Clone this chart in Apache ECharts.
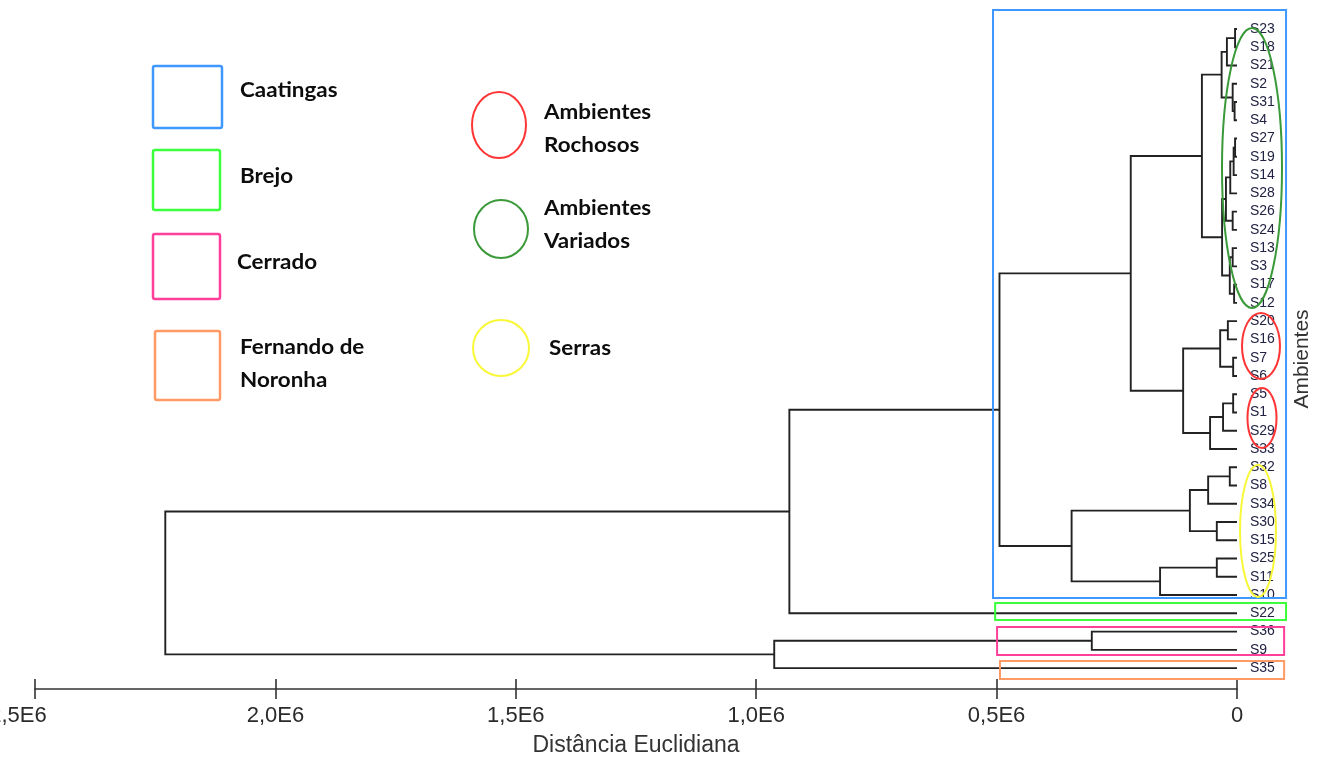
<!DOCTYPE html>
<html>
<head>
<meta charset="utf-8">
<title>Dendrograma - Distância Euclidiana</title>
<script src="https://cdn.jsdelivr.net/npm/echarts@6.0.0/dist/echarts.min.js"></script>
<style>
  html, body { margin: 0; padding: 0; background: #ffffff; }
  #chart { width: 1328px; height: 764px; }
</style>
</head>
<body>
<div id="chart"></div>
<script>
// Leaf order, top to bottom
const leaves = ['S23', 'S18', 'S21', 'S2', 'S31', 'S4', 'S27', 'S19', 'S14', 'S28',
  'S26', 'S24', 'S13', 'S3', 'S17', 'S12', 'S20', 'S16', 'S7', 'S6',
  'S5', 'S1', 'S29', 'S33', 'S32', 'S8', 'S34', 'S30', 'S15', 'S25',
  'S11', 'S10', 'S22', 'S36', 'S9', 'S35'];

// Merge steps: [child A, child B, distance]. Indices below 36 are leaves,
// index 36 + k refers to the cluster formed at step k.
const merges = [
  [0, 1, 0.004e6],     // 36  S23+S18
  [36, 2, 0.021e6],    // 37  +S21
  [4, 5, 0.005e6],     // 38  S31+S4
  [3, 38, 0.009e6],    // 39  S2+
  [37, 39, 0.032e6],   // 40
  [6, 7, 0.004e6],     // 41  S27+S19
  [41, 8, 0.007e6],    // 42  +S14
  [42, 9, 0.014e6],    // 43  +S28
  [10, 11, 0.009e6],   // 44  S26+S24
  [43, 44, 0.023e6],   // 45
  [12, 13, 0.009e6],   // 46  S13+S3
  [14, 15, 0.006e6],   // 47  S17+S12
  [46, 47, 0.015e6],   // 48
  [45, 48, 0.031e6],   // 49
  [40, 49, 0.073e6],   // 50
  [16, 17, 0.019e6],   // 51  S20+S16
  [18, 19, 0.008e6],   // 52  S7+S6
  [51, 52, 0.035e6],   // 53
  [20, 21, 0.008e6],   // 54  S5+S1
  [54, 22, 0.029e6],   // 55  +S29
  [55, 23, 0.056e6],   // 56  +S33
  [53, 56, 0.112e6],   // 57
  [50, 57, 0.221e6],   // 58
  [24, 25, 0.015e6],   // 59  S32+S8
  [59, 26, 0.060e6],   // 60  +S34
  [27, 28, 0.042e6],   // 61  S30+S15
  [60, 61, 0.098e6],   // 62
  [29, 30, 0.042e6],   // 63  S25+S11
  [63, 31, 0.160e6],   // 64  +S10
  [62, 64, 0.344e6],   // 65
  [58, 65, 0.494e6],   // 66  Caatingas
  [66, 32, 0.931e6],   // 67  +S22
  [33, 34, 0.302e6],   // 68  S36+S9
  [68, 35, 0.9625e6],  // 69  +S35
  [67, 69, 2.229e6]    // 70  root
];

const tickValues = [0, 0.5e6, 1.0e6, 1.5e6, 2.0e6, 2.5e6];
const tickLabels = ['0', '0,5E6', '1,0E6', '1,5E6', '2,0E6', '2,5E6'];

// Region frames around leaf groups: [distance left, distance right, leaf top, leaf bottom]
const regionNames = ['Caatingas', 'Brejo', 'Cerrado', 'Fernando de Noronha'];
const regionExtents = [
  [0.5075e6, -0.102e6, -1.04, 31.16],
  [0.503e6, -0.102e6, 31.43, 32.37],
  [0.499e6, -0.098e6, 32.75, 34.28],
  [0.493e6, -0.098e6, 34.61, 35.60]
];
const regionColors = ['#3f98ff', '#3cff3c', '#ff3f9a', '#ff9a66'];

// Environment ellipses: [centre distance, centre leaf, radius distance, radius leaves]
const envNames = ['Ambientes Variados', 'Ambientes Rochosos', 'Ambientes Rochosos', 'Serras'];
const envShapes = [
  [-0.0312e6, 7.61, 0.0624e6, 7.67],
  [-0.0499e6, 17.36, 0.0395e6, 1.81],
  [-0.0520e6, 21.30, 0.0302e6, 1.64],
  [-0.0437e6, 27.49, 0.0374e6, 3.61]
];
const envColors = ['#3a9a3a', '#ff3434', '#ff3434', '#f8f838'];

// Build link geometry from the merge table
const nodeY = leaves.map((_, i) => i);
const nodeH = leaves.map(() => 0);
const linkData = merges.map(([a, b, h]) => {
  const item = [nodeH[a], nodeY[a], h, nodeY[b], nodeH[b]];
  nodeY.push((nodeY[a] + nodeY[b]) / 2);
  nodeH.push(h);
  return item;
});

const STEP = 0.5e6;
const AXIS_FONT = 'Liberation Sans';

function renderLink(params, api) {
  const p1 = api.coord([api.value(0), api.value(1)]);
  const p2 = api.coord([api.value(2), api.value(1)]);
  const p3 = api.coord([api.value(2), api.value(3)]);
  const p4 = api.coord([api.value(4), api.value(3)]);
  return {
    type: 'polyline',
    shape: { points: [p1, p2, p3, p4] },
    style: { stroke: '#222222', lineWidth: 1.9, fill: null }
  };
}

function renderRegion(params, api) {
  const a = api.coord([api.value(0), api.value(2)]);
  const b = api.coord([api.value(1), api.value(3)]);
  return {
    type: 'rect',
    shape: { x: a[0], y: a[1], width: b[0] - a[0], height: b[1] - a[1] },
    style: { stroke: regionColors[params.dataIndex], lineWidth: 2, fill: null }
  };
}

function renderEnv(params, api) {
  const c = api.coord([api.value(0), api.value(1)]);
  const s = api.size([api.value(2), api.value(3)]);
  return {
    type: 'ellipse',
    shape: { cx: c[0], cy: c[1], rx: s[0], ry: s[1] },
    style: { stroke: envColors[params.dataIndex], lineWidth: 2, fill: null }
  };
}

// Key on the left: frames for the regions, ellipses for the environments
const keyRects = [
  { x: 153, y: 66, w: 69, h: 62, label: ['Caatingas'], tx: 240, ty: 91 },
  { x: 153, y: 150, w: 67, h: 60, label: ['Brejo'], tx: 240, ty: 177 },
  { x: 153, y: 234, w: 67, h: 65, label: ['Cerrado'], tx: 237, ty: 263 },
  { x: 155, y: 331, w: 65, h: 69, label: ['Fernando de', 'Noronha'], tx: 240, ty: 348 }
];
const keyEllipses = [
  { cx: 499, cy: 125, rx: 27, ry: 33, color: '#ff3434', label: ['Ambientes', 'Rochosos'], tx: 544, ty: 113 },
  { cx: 501, cy: 229, rx: 27, ry: 29, color: '#3a9a3a', label: ['Ambientes', 'Variados'], tx: 544, ty: 209 },
  { cx: 501, cy: 348, rx: 28, ry: 28, color: '#f8f838', label: ['Serras'], tx: 549, ty: 349 }
];

const keyGraphics = [];
function keyText(lines, x, y) {
  lines.forEach((t, i) => {
    keyGraphics.push({
      type: 'text', x: x, y: y + i * 33, scaleX: 1.12,
      style: { text: t, x: 0, y: 0, fill: '#0d0d0d', font: 'bold 20px Lato', verticalAlign: 'middle' }
    });
  });
}
keyRects.forEach((r, i) => {
  keyGraphics.push({
    type: 'rect', shape: { x: r.x, y: r.y, width: r.w, height: r.h, r: 2 },
    style: { stroke: regionColors[i], lineWidth: 2.5, fill: null }
  });
  keyText(r.label, r.tx, r.ty);
});
keyEllipses.forEach((e) => {
  keyGraphics.push({
    type: 'ellipse', shape: { cx: e.cx, cy: e.cy, rx: e.rx, ry: e.ry },
    style: { stroke: e.color, lineWidth: 2, fill: null }
  });
  keyText(e.label, e.tx, e.ty);
});

const GRID_TOP = 29, AXIS_Y = 689, LEAF_GAP = 18.26;
const yMax = (AXIS_Y - GRID_TOP) / LEAF_GAP;

const xAxisBase = {
  type: 'value', inverse: true, min: 0, max: tickValues[tickValues.length - 1],
  interval: STEP, position: 'bottom', splitLine: { show: false }
};

const chart = echarts.init(document.getElementById('chart'), null, { renderer: 'canvas' });
chart.setOption({
  animation: false,
  backgroundColor: '#ffffff',
  grid: {
    left: 35, right: 91, top: GRID_TOP, bottom: 764 - AXIS_Y,
    containLabel: false, outerBoundsMode: 'none'
  },
  xAxis: [
    Object.assign({}, xAxisBase, {
      name: 'Distância Euclidiana', nameLocation: 'middle', nameGap: 45,
      nameTextStyle: { fontFamily: AXIS_FONT, fontSize: 23, color: '#333' },
      axisLine: { show: true, onZero: false, lineStyle: { color: '#333', width: 1.6 } },
      axisTick: { show: true, inside: false, length: 10, lineStyle: { color: '#333', width: 1.6 } },
      axisLabel: {
        margin: 16, fontFamily: AXIS_FONT, fontSize: 22, color: '#2a2a2a',
        formatter: (v) => {
          const i = Math.round(v / STEP);
          return i === tickLabels.length - 1 ? '{edge|' + tickLabels[i] + '}' : tickLabels[i];
        },
        rich: { edge: { fontFamily: AXIS_FONT, fontSize: 22, color: '#2a2a2a', padding: [0, 34, 0, 0] } }
      }
    }),
    Object.assign({}, xAxisBase, {
      axisLine: { show: false, onZero: false },
      axisTick: { show: true, inside: true, length: 10, lineStyle: { color: '#333', width: 1.6 } },
      axisLabel: { show: false }
    })
  ],
  yAxis: {
    type: 'value', inverse: true, min: 0, max: yMax, interval: 1, position: 'right',
    name: 'Ambientes', nameLocation: 'middle', nameGap: 55, nameRotate: 90,
    nameTextStyle: { fontFamily: AXIS_FONT, fontSize: 21, color: '#333' },
    axisLine: { show: false }, axisTick: { show: false }, splitLine: { show: false },
    axisLabel: {
      margin: 13, fontFamily: AXIS_FONT, fontSize: 14, color: '#222244', align: 'left',
      formatter: (v) => (Number.isInteger(v) && leaves[v]) ? leaves[v] : ''
    }
  },
  graphic: keyGraphics,
  series: [
    {
      name: 'dendrograma', type: 'custom', renderItem: renderLink,
      xAxisIndex: 0, yAxisIndex: 0, data: linkData, clip: false, silent: true, z: 3
    },
    {
      name: 'regiões', type: 'custom', renderItem: renderRegion,
      xAxisIndex: 0, yAxisIndex: 0, data: regionExtents, clip: false, silent: true, z: 4
    },
    {
      name: 'ambientes', type: 'custom', renderItem: renderEnv,
      xAxisIndex: 0, yAxisIndex: 0, data: envShapes, clip: false, silent: true, z: 5
    }
  ]
});
</script>
</body>
</html>
